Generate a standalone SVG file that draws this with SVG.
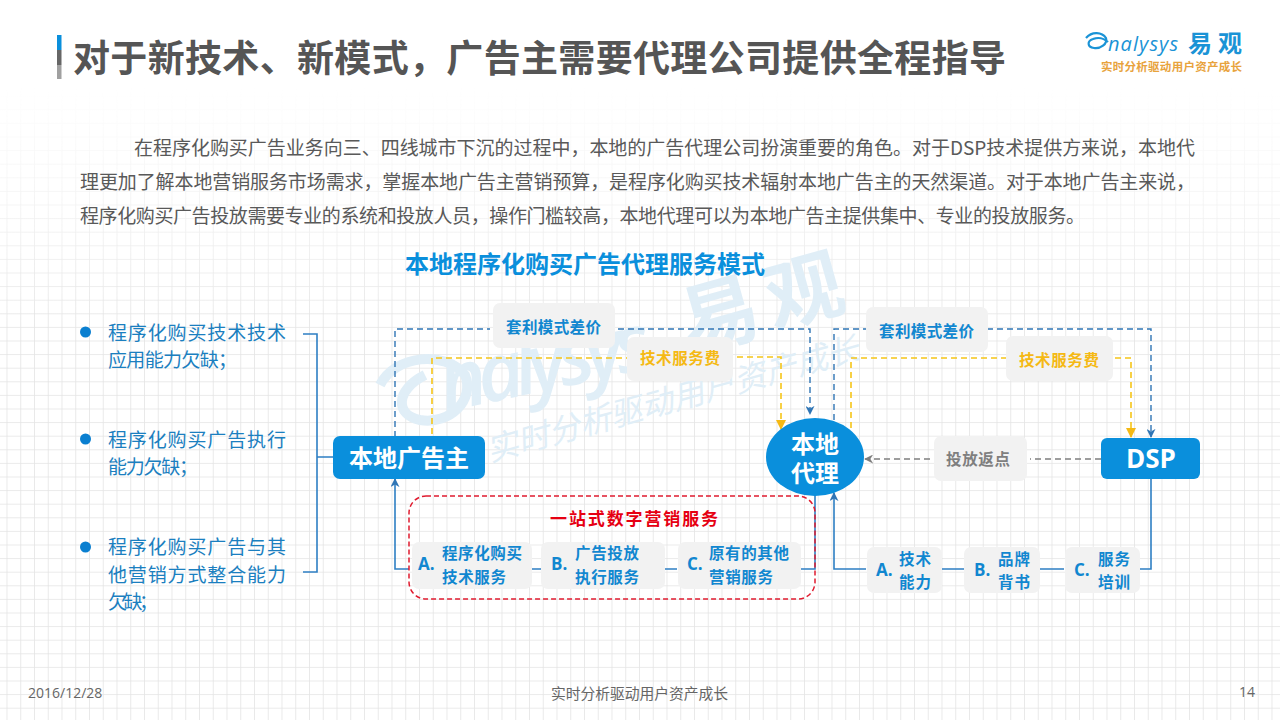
<svg xmlns="http://www.w3.org/2000/svg" width="1280" height="720" viewBox="0 0 1280 720">
<style>
text{font-family:"Noto Sans CJK SC","Noto Sans",sans-serif}
.b{font-weight:700}
.body{font-size:19px;fill:#595959}
.li{font-size:19px;fill:#1b7fc0}
.tag{fill:#f2f2f2}
.lb{font-size:15.5px;font-weight:700;fill:#1187d0}
.ly{font-size:15.5px;font-weight:700;fill:#f5b914}
.it{font-size:15.5px;font-weight:700;fill:#1187d0}
.ab{font-size:17px;font-weight:700;fill:#1187d0;font-family:"Open Sans",sans-serif}
.node{fill:#0a8fdc}
.nt{fill:#fff;font-weight:700;text-anchor:middle}
.sol{fill:none;stroke:#2e7fc4;stroke-width:1.6}
.db{fill:none;stroke:#2f75b5;stroke-width:1.4;stroke-dasharray:6 4}
.dy{fill:none;stroke:#f5c518;stroke-width:1.6;stroke-dasharray:6 4}
.dg{fill:none;stroke:#7f7f7f;stroke-width:1.4;stroke-dasharray:6 4}
.wm{fill:#e0eef7}
</style>
<defs>
<pattern id="grid" width="13.75" height="13.6" patternUnits="userSpaceOnUse" x="6.5" y="0.5">
<path d="M0 0V13.6M0 0H13.75" fill="none" stroke="#e4e4e4" stroke-width="1.6"/>
</pattern>
<linearGradient id="fade" x1="0" y1="0" x2="0" y2="1"><stop offset=".12" stop-color="#000"/><stop offset=".3" stop-color="#888"/><stop offset=".45" stop-color="#fff"/></linearGradient>
<mask id="gm"><rect width="1280" height="720" fill="url(#fade)"/></mask>
<marker id="ab" viewBox="0 0 10 10" refX="9" refY="5" markerWidth="9" markerHeight="9" orient="auto" markerUnits="userSpaceOnUse"><path d="M0 0L10 5L0 10L3 5Z" fill="#2f75b5"/></marker>
<marker id="ay" viewBox="0 0 10 10" refX="9" refY="5" markerWidth="10" markerHeight="10" orient="auto" markerUnits="userSpaceOnUse"><path d="M0 0L10 5L0 10Z" fill="#f5b914"/></marker>
<marker id="ag" viewBox="0 0 10 10" refX="9" refY="5" markerWidth="9" markerHeight="9" orient="auto" markerUnits="userSpaceOnUse"><path d="M0 0L10 5L0 10L3 5Z" fill="#7f7f7f"/></marker>
</defs>
<rect width="1280" height="720" fill="#fff"/>
<rect width="1280" height="720" fill="url(#grid)" mask="url(#gm)"/>

<g id="watermark" class="wm">
<text transform="translate(445 412) rotate(-12)" style="font-family:'Open Sans',sans-serif" font-size="80" font-weight="600" font-style="italic" textLength="215">nalysys</text>
<text transform="translate(690 352) rotate(-15.6)" font-size="78" font-weight="700" textLength="165">易观</text>
<text transform="translate(490 462) rotate(-15.6)" font-size="32" font-style="italic" textLength="385">实时分析驱动用户资产成长</text>
<path d="M380 385C395 355 445 350 465 375C475 400 450 425 420 420C395 415 395 390 425 375" fill="none" stroke="#e0eef7" stroke-width="10"/>
</g>

<g id="title">
<rect x="57" y="35" width="4.5" height="15" fill="#0a8fdc"/>
<rect x="57" y="50" width="4.5" height="15" fill="#666"/>
<rect x="57" y="65" width="4.5" height="14" fill="#a0a0a0"/>
<text x="73" y="72" class="b" font-size="37" fill="#555" textLength="933">对于新技术、新模式&#xFF0C;广告主需要代理公司提供全程指导</text>
</g>

<g id="logo">
<path d="M1086 38C1092 31 1102 32 1106 38C1108 44 1100 49 1094 48C1087 47 1087 41 1093 39C1098 37 1104 38 1108 42" fill="none" stroke="#1a93d6" stroke-width="2.2"/>
<text x="1108" y="51" font-size="20" font-style="italic" fill="#1a93d6" style="font-family:'Open Sans',sans-serif" textLength="70">nalysys</text>
<text x="1188" y="52" font-size="24" font-weight="700" fill="#1a93d6" textLength="54">易观</text>
<text x="1101" y="71" font-size="11.5" font-weight="700" fill="#e8a33d" textLength="141">实时分析驱动用户资产成长</text>
</g>

<g id="intro">
<text x="134" y="155" class="body" textLength="1061">在程序化购买广告业务向三、四线城市下沉的过程中&#xFF0C;本地的广告代理公司扮演重要的角色。对于DSP技术提供方来说&#xFF0C;本地代</text>
<text x="80" y="189" class="body" textLength="1115">理更加了解本地营销服务市场需求&#xFF0C;掌握本地广告主营销预算&#xFF0C;是程序化购买技术辐射本地广告主的天然渠道。对于本地广告主来说&#xFF0C;</text>
<text x="80" y="223" class="body" textLength="1005">程序化购买广告投放需要专业的系统和投放人员&#xFF0C;操作门槛较高&#xFF0C;本地代理可以为本地广告主提供集中、专业的投放服务。</text>
</g>

<text id="heading" x="405" y="273" class="b" font-size="24" fill="#0a8fdc" textLength="360">本地程序化购买广告代理服务模式</text>

<g id="problems">
<circle cx="85.500" cy="332" r="5.500" fill="#0a7fd0"/>
<text x="108" y="340" class="li" textLength="178">程序化购买技术技术</text>
<text x="108" y="367" class="li" textLength="129">应用能力欠缺&#xFF1B;</text>
<circle cx="85.500" cy="439" r="5.500" fill="#0a7fd0"/>
<text x="108" y="447" class="li" textLength="178">程序化购买广告执行</text>
<text x="108" y="474" class="li" textLength="90">能力欠缺&#xFF1B;</text>
<circle cx="85.500" cy="547" r="5.500" fill="#0a7fd0"/>
<text x="108" y="554" class="li" textLength="178">程序化购买广告与其</text>
<text x="108" y="582" class="li" textLength="178">他营销方式整合能力</text>
<text x="108" y="609" class="li" textLength="50">欠缺&#xFF1B;</text>
</g>

<g id="connectors">
<path class="sol" d="M303 334H317V572H303M317 457H333"/>
<path class="sol" d="M409 569H395V479" marker-end="url(#ab)"/>
<path class="sol" d="M530 569H541M665 569H677M801 569H815V468"/>
<path class="sol" d="M866 569H834V493" marker-end="url(#ab)"/>
<path class="sol" d="M942 569H964M1040 569H1064M1140 569H1151V479"/>
<path class="db" d="M395 437V329H490M618 329H810V414" marker-end="url(#ab)"/>
<path class="dy" d="M432 434V358H628M737 357H781V429" marker-end="url(#ay)"/>
<path class="db" d="M834 420V329H866M987 329H1151V437" marker-end="url(#ab)"/>
<path class="dy" d="M851 428V358H1006M1115 358H1131V437" marker-end="url(#ay)"/>
<path class="dg" d="M1101 459H1030M930 459H865" marker-end="url(#ag)"/>
</g>

<g id="n-advertiser"><rect class="node" x="333" y="436" width="152" height="43" rx="7"/><text x="409" y="467" class="nt" font-size="24" textLength="120">本地广告主</text></g>
<g id="n-agency"><ellipse class="node" cx="815" cy="457" rx="49" ry="39"/><text class="nt" font-size="24"><tspan x="815" y="453">本地</tspan><tspan x="815" y="482">代理</tspan></text></g>
<g id="n-dsp"><rect class="node" x="1101" y="438" width="99" height="41" rx="6"/><text x="1151" y="468" class="nt" font-size="26" style="font-family:'Open Sans',sans-serif">DSP</text></g>

<g id="e-1"><rect class="tag" x="493" y="303" width="122" height="45" rx="7"/><text x="506" y="333" class="lb" textLength="95">套利模式差价</text></g>
<g id="e-2"><rect class="tag" x="627" y="337" width="106" height="44" rx="7"/><text x="640" y="364" class="ly" textLength="80">技术服务费</text></g>
<g id="e-3"><rect class="tag" x="866" y="307" width="122" height="45" rx="7"/><text x="879" y="337" class="lb" textLength="95">套利模式差价</text></g>
<g id="e-4"><rect class="tag" x="1006" y="336" width="107" height="45" rx="7"/><text x="1019" y="366" class="ly" textLength="80">技术服务费</text></g>
<g id="e-5"><rect class="tag" x="934" y="436" width="93" height="45" rx="7"/><text x="946" y="465" font-size="15.500" font-weight="700" fill="#7f7f7f" textLength="64">投放返点</text></g>

<g id="one-stop">
<rect x="409" y="496" width="406" height="103" rx="17" fill="none" stroke="#e01b2f" stroke-width="1.500" stroke-dasharray="5 3"/>
<text x="550" y="525" class="b" font-size="17" fill="#e60012" textLength="168">一站式数字营销服务</text>
</g>
<g id="s-a"><rect class="tag" x="412" y="542" width="120" height="47" rx="7"/><text x="418" y="570" class="ab">A.</text><text x="442" y="559" class="it" textLength="80">程序化购买</text><text x="442" y="583" class="it" textLength="64">技术服务</text></g>
<g id="s-b"><rect class="tag" x="541" y="542" width="124" height="47" rx="7"/><text x="551" y="570" class="ab">B.</text><text x="575" y="559" class="it" textLength="64">广告投放</text><text x="575" y="583" class="it" textLength="64">执行服务</text></g>
<g id="s-c"><rect class="tag" x="678" y="542" width="123" height="47" rx="7"/><text x="687" y="570" class="ab">C.</text><text x="709" y="559" class="it" textLength="80">原有的其他</text><text x="709" y="583" class="it" textLength="64">营销服务</text></g>
<g id="r-a"><rect class="tag" x="867" y="547" width="75" height="46" rx="7"/><text x="876" y="576" class="ab">A.</text><text x="899" y="565" class="it" textLength="32">技术</text><text x="899" y="588" class="it" textLength="32">能力</text></g>
<g id="r-b"><rect class="tag" x="964" y="547" width="76" height="46" rx="7"/><text x="974" y="576" class="ab">B.</text><text x="998" y="565" class="it" textLength="32">品牌</text><text x="998" y="588" class="it" textLength="32">背书</text></g>
<g id="r-c"><rect class="tag" x="1065" y="547" width="75" height="46" rx="7"/><text x="1074" y="576" class="ab">C.</text><text x="1098" y="565" class="it" textLength="32">服务</text><text x="1098" y="588" class="it" textLength="32">培训</text></g>

<g id="footer">
<text x="28" y="698" font-size="14" fill="#666" style="font-family:'Open Sans',sans-serif">2016/12/28</text>
<text x="551" y="699" font-size="14.800" fill="#666" textLength="177">实时分析驱动用户资产成长</text>
<text x="1239" y="697" font-size="14" fill="#666" style="font-family:'Open Sans',sans-serif">14</text>
</g>
</svg>
